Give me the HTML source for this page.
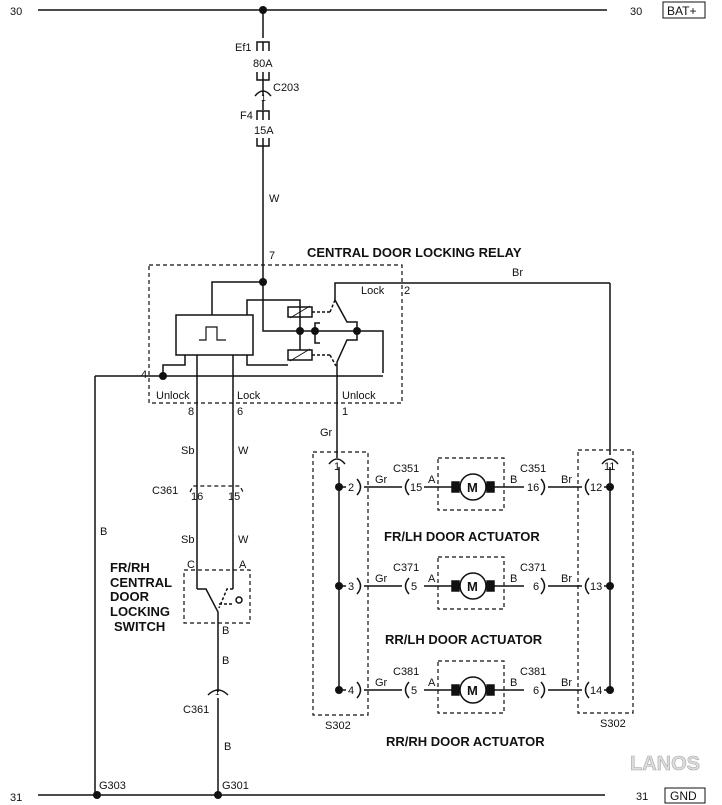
<!DOCTYPE html>
<html><head><meta charset="utf-8"><style>
html,body{margin:0;padding:0;background:#fff;}
svg{display:block}
text{font-family:"Liberation Sans",sans-serif;font-size:11px;fill:#111}
.b{font-weight:bold;font-size:13px}
</style></head><body>
<svg width="722" height="805" viewBox="0 0 722 805" xmlns="http://www.w3.org/2000/svg">
<g stroke="#111" stroke-width="1.5" fill="none">
<line x1="38" y1="10" x2="607" y2="10"/>
<line x1="263" y1="10" x2="263" y2="38"/>
<path d="M257 51 V42 H269 V51 M263 42 V51"/>
<path d="M257 72 V80 H269 V72 M263 72 V80"/>
<line x1="263" y1="80" x2="263" y2="96"/>
<path d="M255 96 Q263 86 271 96"/>
<line x1="263" y1="100" x2="263" y2="110"/>
<path d="M257 120 V111 H269 V120 M263 111 V120"/>
<path d="M257 138 V146 H269 V138 M263 138 V146"/>
<line x1="263" y1="146" x2="263" y2="282"/>
<rect x="149" y="265" width="253" height="138" stroke-dasharray="4,3" stroke-width="1.2"/>
<path d="M263 282 H212 V315"/>
<rect x="176" y="315" width="77" height="40"/>
<path d="M199 340 H206 V327 H217 V340 H226" stroke-width="1.2"/>
<path d="M263 282 V331 H357"/>
<path d="M247 315 V300 H300 V350"/>
<rect x="288" y="307" width="24" height="10"/>
<rect x="288" y="350" width="24" height="10"/>
<line x1="290" y1="318" x2="310" y2="306" stroke-width="1"/>
<line x1="290" y1="361" x2="310" y2="349" stroke-width="1"/>
<path d="M247 355 V365 H288"/>
<path d="M320 323 H315 V343 H320"/>
<line x1="312" y1="312" x2="330" y2="312" stroke-dasharray="3,2"/>
<line x1="312" y1="355" x2="330" y2="355" stroke-dasharray="3,2"/>
<line x1="330" y1="312" x2="335" y2="300" stroke-dasharray="3,2"/>
<line x1="330" y1="355" x2="336" y2="366" stroke-dasharray="3,2"/>
<path d="M610 283 H335 V300 L347 322 H357 V331"/>
<path d="M357 331 V340 H347 L337 362 V458"/>
<path d="M357 331 H383 V373"/>
<path d="M95 376 H383"/>
<path d="M163 376 V365 H185 V355"/>
<line x1="95" y1="376" x2="95" y2="795"/>
<line x1="197" y1="355" x2="197" y2="589"/>
<line x1="233" y1="355" x2="233" y2="589"/>
<path d="M190 492 L193 486 H240 L243 492" stroke-dasharray="4,3" stroke-width="1.2"/>
<rect x="184" y="570" width="66" height="53" stroke-dasharray="4,3" stroke-width="1.2"/>
<path d="M197 589 H206 L218 612 V692"/>
<path d="M233 589 H227 L219 608" stroke-dasharray="3,2"/>
<line x1="219" y1="604" x2="234" y2="604" stroke-dasharray="3,2"/>
<circle cx="239" cy="600" r="3"/>
<path d="M208 695 Q218 685 228 695"/>
<line x1="218" y1="698" x2="218" y2="795"/>
<line x1="38" y1="795" x2="605" y2="795"/>
<rect x="313" y="452" width="55" height="263" stroke-dasharray="4,3" stroke-width="1.2"/>
<rect x="578" y="450" width="55" height="263" stroke-dasharray="4,3" stroke-width="1.2"/>
<path d="M329 464 Q337 454 345 464"/>
<path d="M602 464 Q610 454 618 464"/>
<line x1="339" y1="467" x2="339" y2="690"/>
<line x1="610" y1="283" x2="610" y2="455"/>
<line x1="610" y1="467" x2="610" y2="690"/>
<g id="row">
<line x1="339" y1="487" x2="346" y2="487"/>
<path d="M357 479 Q364 487 357 495"/>
<line x1="364" y1="487" x2="402" y2="487"/>
<path d="M409 479 Q402 487 409 495"/>
<line x1="424" y1="487" x2="452" y2="487"/>
<rect x="438" y="458" width="66" height="52" stroke-dasharray="4,3" stroke-width="1.2"/>
<circle cx="473" cy="487" r="13" fill="#fff"/>
<rect x="452" y="482" width="7" height="10" fill="#111"/>
<rect x="487" y="482" width="7" height="10" fill="#111"/>
<line x1="494" y1="487" x2="524" y2="487"/>
<path d="M541 479 Q548 487 541 495"/>
<line x1="548" y1="487" x2="582" y2="487"/>
<path d="M589 479 Q582 487 589 495"/>
<line x1="604" y1="487" x2="610" y2="487"/>
</g>
<use href="#row" y="99"/>
<use href="#row" y="203"/>
</g>
<g fill="#111">
<circle cx="263" cy="10" r="4"/>
<circle cx="263" cy="282" r="4"/>
<circle cx="300" cy="331" r="4"/>
<circle cx="315" cy="331" r="4"/>
<circle cx="357" cy="331" r="4"/>
<circle cx="163" cy="376" r="4"/>
<circle cx="97" cy="795" r="4"/>
<circle cx="218" cy="795" r="4"/>
<circle cx="339" cy="487" r="4"/><circle cx="339" cy="586" r="4"/><circle cx="339" cy="690" r="4"/>
<circle cx="610" cy="487" r="4"/><circle cx="610" cy="586" r="4"/><circle cx="610" cy="690" r="4"/>
</g>
<text x="10" y="15">30</text>
<text x="630" y="15">30</text>
<rect x="663" y="2" width="42" height="16" fill="none" stroke="#111"/>
<text x="667" y="15" style="font-size:12px">BAT+</text>
<text x="235" y="51">Ef1</text>
<text x="253" y="67">80A</text>
<text x="273" y="91">C203</text>
<text x="261" y="101" style="font-size:9px">1</text>
<text x="240" y="119">F4</text>
<text x="254" y="134">15A</text>
<text x="269" y="202">W</text>
<text x="269" y="259">7</text>
<text x="307" y="257" class="b">CENTRAL DOOR LOCKING RELAY</text>
<text x="512" y="276">Br</text>
<text x="361" y="294">Lock</text>
<text x="404" y="294">2</text>
<text x="141" y="378">4</text>
<text x="156" y="399">Unlock</text>
<text x="237" y="399">Lock</text>
<text x="342" y="399">Unlock</text>
<text x="188" y="415">8</text>
<text x="237" y="415">6</text>
<text x="342" y="415">1</text>
<text x="320" y="436">Gr</text>
<text x="181" y="454">Sb</text>
<text x="238" y="454">W</text>
<text x="100" y="535">B</text>
<text x="152" y="494">C361</text>
<text x="191" y="500">16</text>
<text x="228" y="500">15</text>
<text x="181" y="543">Sb</text>
<text x="238" y="543">W</text>
<text x="187" y="568">C</text>
<text x="239" y="568">A</text>
<text x="222" y="634">B</text>
<text x="222" y="664">B</text>
<text x="183" y="713">C361</text>
<text x="215" y="695" style="font-size:8px">1</text>
<text x="224" y="750">B</text>
<text x="110" y="572" class="b">FR/RH</text>
<text x="110" y="587" class="b">CENTRAL</text>
<text x="110" y="601" class="b">DOOR</text>
<text x="110" y="616" class="b">LOCKING</text>
<text x="114" y="631" class="b">SWITCH</text>
<text x="334" y="470">1</text>
<text x="604" y="470">11</text>
<text x="348" y="491">2</text><text x="375" y="483">Gr</text><text x="393" y="472">C351</text><text x="410" y="491">15</text><text x="428" y="483">A</text><text x="467" y="492" class="b">M</text><text x="510" y="483">B</text><text x="520" y="472">C351</text><text x="527" y="491">16</text><text x="561" y="483">Br</text><text x="590" y="491">12</text>
<text x="348" y="590">3</text><text x="375" y="582">Gr</text><text x="393" y="571">C371</text><text x="411" y="590">5</text><text x="428" y="582">A</text><text x="467" y="591" class="b">M</text><text x="510" y="582">B</text><text x="520" y="571">C371</text><text x="533" y="590">6</text><text x="561" y="582">Br</text><text x="590" y="590">13</text>
<text x="348" y="694">4</text><text x="375" y="686">Gr</text><text x="393" y="675">C381</text><text x="411" y="694">5</text><text x="428" y="686">A</text><text x="467" y="695" class="b">M</text><text x="510" y="686">B</text><text x="520" y="675">C381</text><text x="533" y="694">6</text><text x="561" y="686">Br</text><text x="590" y="694">14</text>
<text x="384" y="541" class="b">FR/LH DOOR ACTUATOR</text>
<text x="385" y="644" class="b">RR/LH DOOR ACTUATOR</text>
<text x="386" y="746" class="b">RR/RH DOOR ACTUATOR</text>
<text x="325" y="729">S302</text>
<text x="600" y="727">S302</text>
<text x="10" y="801">31</text>
<text x="99" y="789">G303</text>
<text x="222" y="789">G301</text>
<text x="636" y="800">31</text>
<rect x="665" y="788" width="40" height="15" fill="none" stroke="#111"/>
<text x="670" y="800" style="font-size:12px">GND</text>
<text x="630" y="770" style="font-size:20px;font-weight:bold;fill:#ddd;stroke:#aaa;stroke-width:0.6">LANOS</text>
</svg>
</body></html>
